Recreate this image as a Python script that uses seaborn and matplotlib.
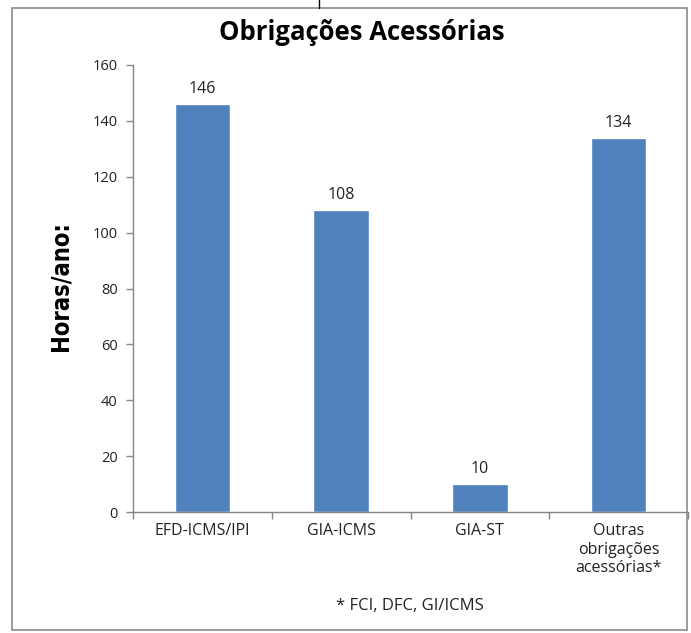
import matplotlib
matplotlib.use("Agg")
import matplotlib.pyplot as plt
import seaborn as sns
import pandas as pd
from matplotlib.lines import Line2D
from matplotlib.patches import Rectangle

categories = ["EFD-ICMS/IPI", "GIA-ICMS", "GIA-ST", "Outras\nobrigações\nacessórias*"]
hours = [146, 108, 10, 134]
y_ticks = [0, 20, 40, 60, 80, 100, 120, 140, 160]

title = "Obrigações Acessórias"
y_label = "Horas/ano:"
footnote = "* FCI, DFC, GI/ICMS"

df = pd.DataFrame({"cat": categories, "val": hours})

sns.set_theme(style="white")
plt.rcParams["font.family"] = ["Open Sans", "DejaVu Sans"]

W, H = 691, 633
fig = plt.figure(figsize=(W / 100, H / 100), dpi=100)
fig.patch.set_facecolor("white")

ax = fig.add_axes([133 / W, 1 - 512 / H, (688 - 133) / W, (512 - 65) / H])
sns.barplot(data=df, x="cat", y="val", order=categories, color="#4F81BD",
            saturation=1, width=0.4, ax=ax)

ax.set_ylim(0, 160)
ax.set_xlim(-0.5, 3.5)
ax.set_yticks(y_ticks)
ax.set_xlabel("")
ax.set_ylabel("")

grey = "#868686"
for s in ["top", "right"]:
    ax.spines[s].set_visible(False)
for s in ["left", "bottom"]:
    ax.spines[s].set_color(grey)
    ax.spines[s].set_linewidth(1.0)

ax.tick_params(axis="y", which="major", length=5, width=1, color=grey,
               labelsize=10.5, labelcolor="#222222", pad=6, left=True)
ax.tick_params(axis="x", which="major", length=0, labelsize=11.5,
               labelcolor="#222222", pad=8)
for lbl in ax.get_xticklabels():
    lbl.set_linespacing(1.22)
ax.set_xticks([-0.5, 0.5, 1.5, 2.5, 3.5], minor=True)
ax.tick_params(axis="x", which="minor", length=5, width=1, color=grey, bottom=True)

for c in ax.containers:
    ax.bar_label(c, fmt="%d", padding=5, fontsize=11.5, color="#222222")

fig.text(362 / W, 1 - 33 / H, title, ha="center", va="center",
         fontsize=18.5, fontweight="bold", color="black")
fig.text(60 / W, 1 - 286 / H, y_label, ha="center", va="center", rotation=90,
         fontsize=17, fontweight="bold", color="black",
         family=["Liberation Sans Narrow", "DejaVu Sans Condensed", "DejaVu Sans"],
         fontstretch="condensed")
fig.text(410 / W, 1 - 606 / H, footnote, ha="center", va="center",
         fontsize=12, color="#222222")

# outer frame
fig.add_artist(Rectangle((12 / W, 1 - 630 / H), (687 - 12) / W, (630 - 8) / H,
                         transform=fig.transFigure, fill=False,
                         edgecolor="#8a8a8a", linewidth=1.2))
fig.add_artist(Line2D([319 / W, 319 / W], [1, 1 - 8 / H], transform=fig.transFigure,
                      color="black", linewidth=1))

fig.savefig("out.png", dpi=100)
